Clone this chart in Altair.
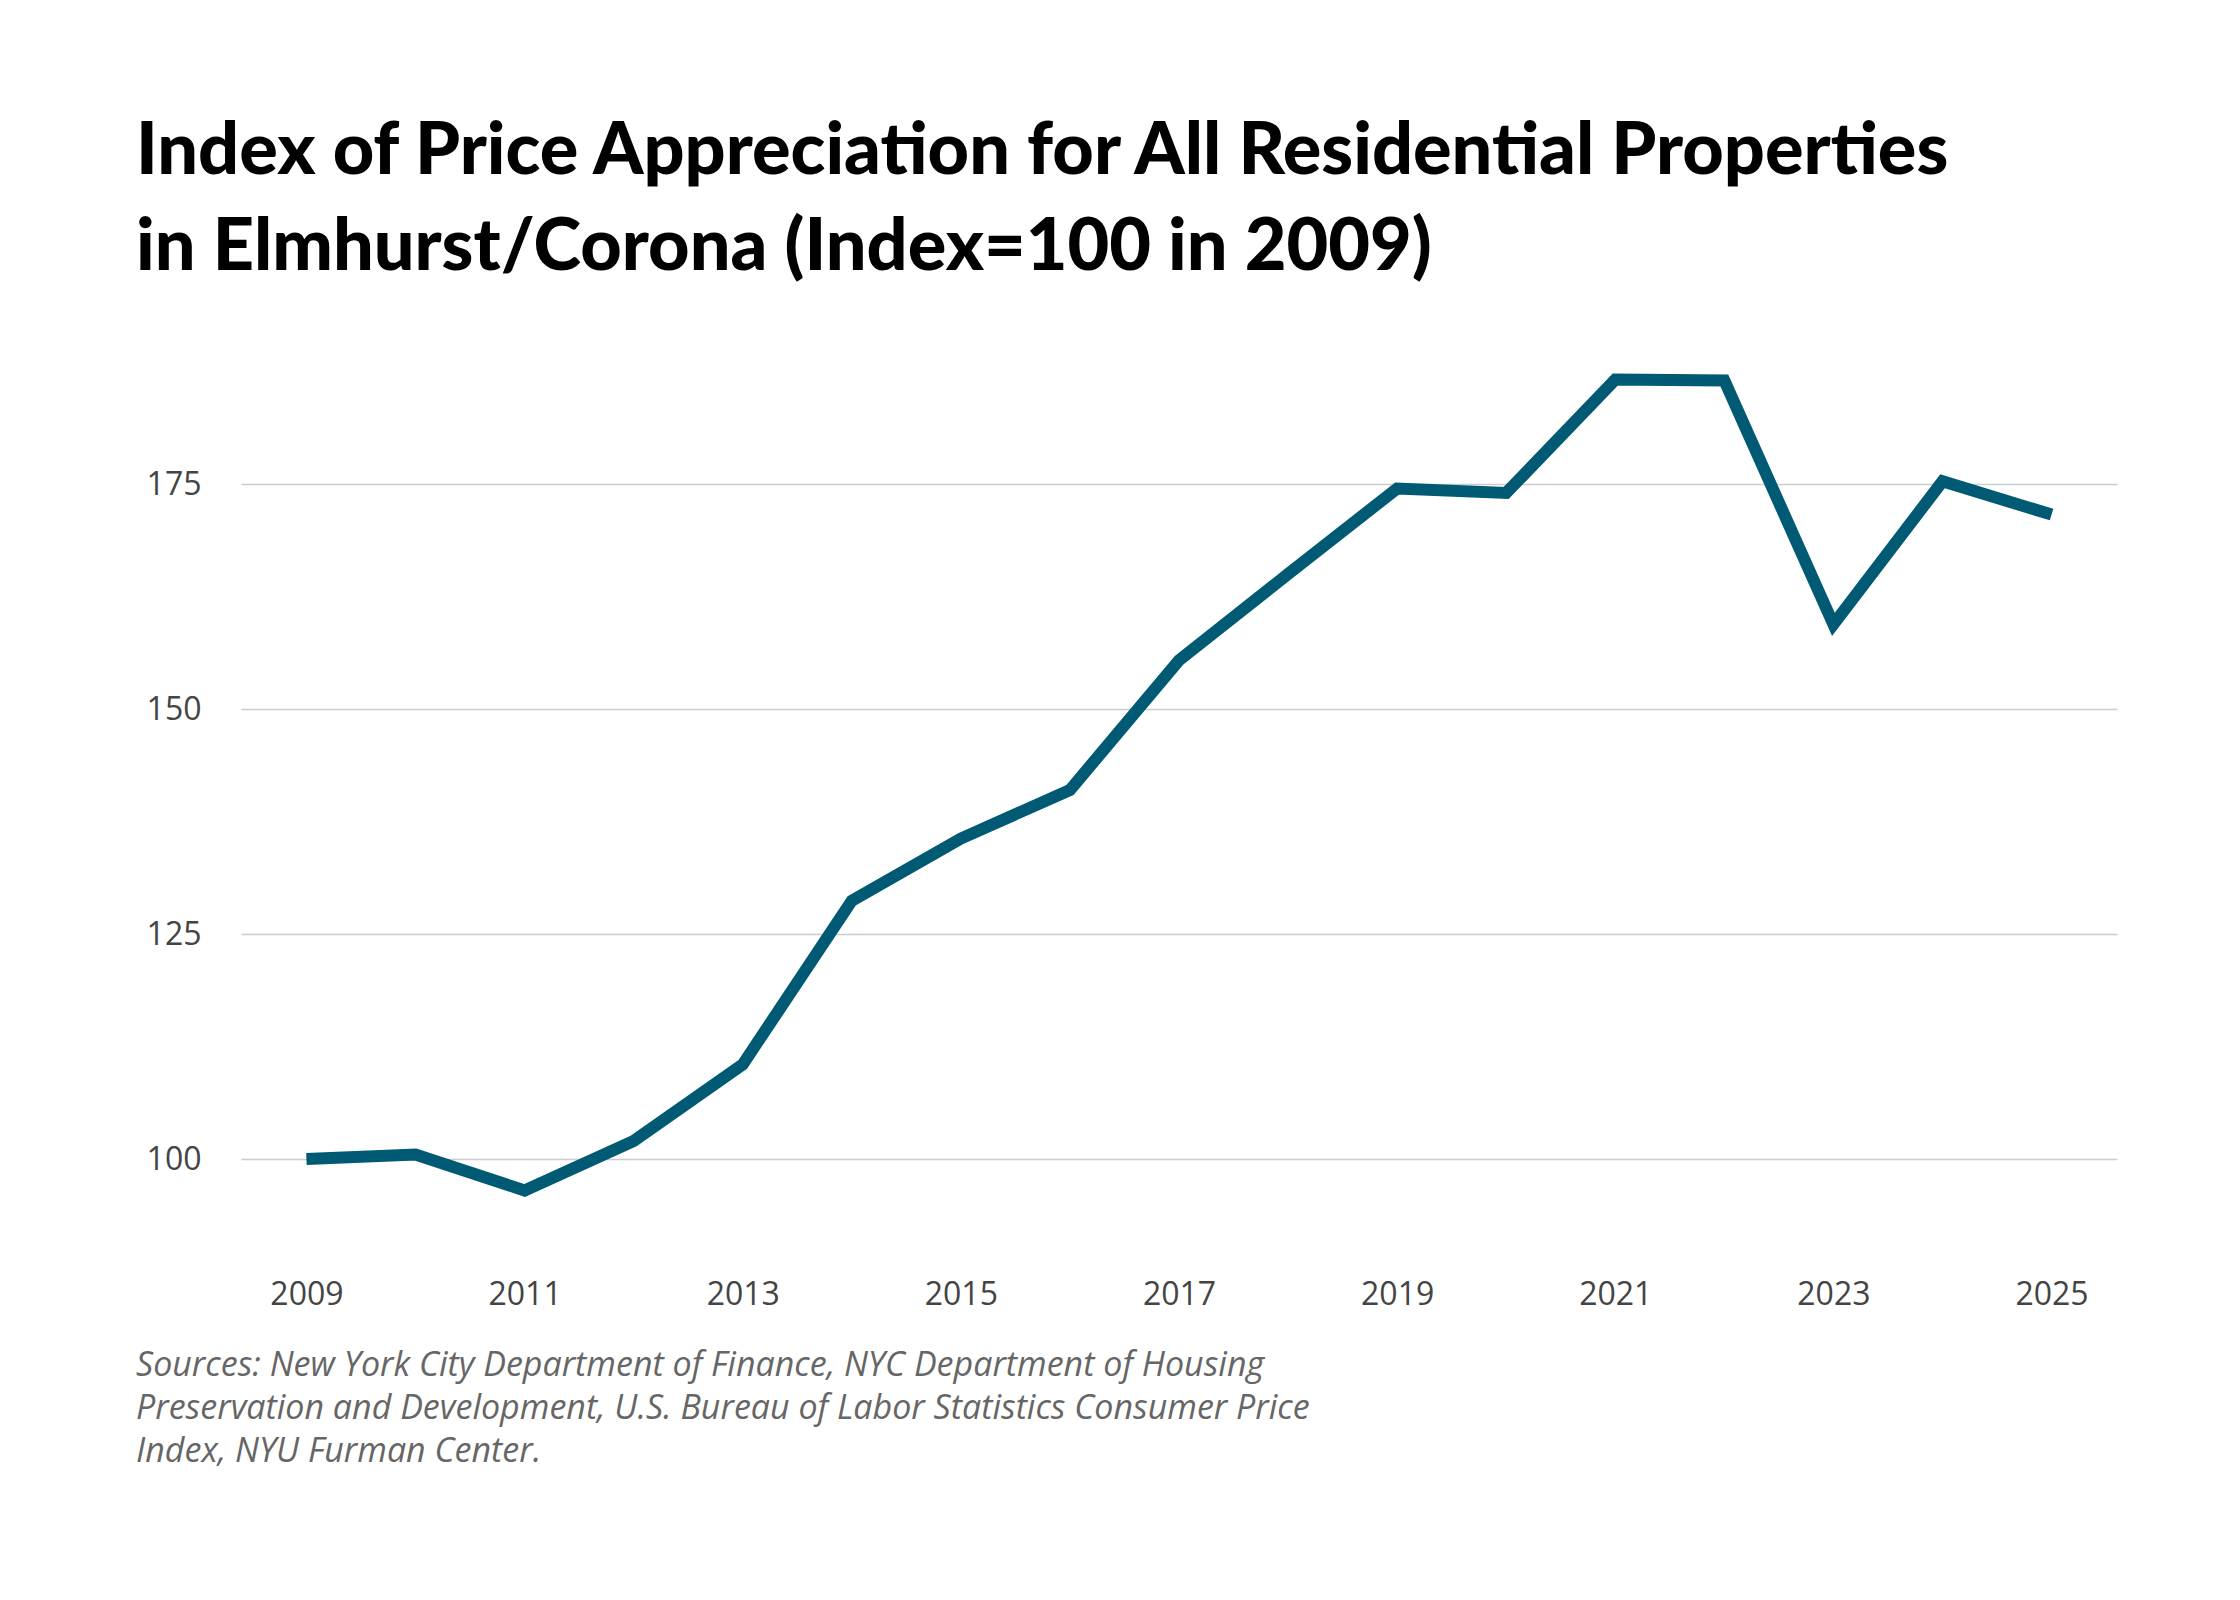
import altair as alt
import pandas as pd

years = list(range(2009, 2026))
index_values = [100, 100.5, 96.5, 102, 110.5, 128.7, 135.6, 141, 155.4, 165,
                174.5, 174, 186.6, 186.5, 159.4, 175.3, 171.6]
y_ticks = [100, 125, 150, 175]
x_ticks = [2009, 2011, 2013, 2015, 2017, 2019, 2021, 2023, 2025]
title_lines = ["Index of Price Appreciation for All Residential Properties",
               "in Elmhurst/Corona (Index=100 in 2009)"]
source_text = ("Sources: New York City Department of Finance, NYC Department of Housing\n"
               "Preservation and Development, U.S. Bureau of Labor Statistics Consumer Price\n"
               "Index, NYU Furman Center.")

df = pd.DataFrame({"year": years, "index": index_values})

line = alt.Chart(df).mark_line(color="#005a73", strokeWidth=12, strokeCap="butt").encode(
    x=alt.X("year:Q", scale=alt.Scale(domain=[2008.4, 2025.6], nice=False, zero=False),
            axis=alt.Axis(values=x_ticks, format="d", grid=False, domain=False, ticks=False,
                          labelPadding=30, labelFontSize=32, labelColor="#444444",
                          labelFont="Open Sans", title=None)),
    y=alt.Y("index:Q", scale=alt.Scale(domain=[90, 190], nice=False, zero=False),
            axis=alt.Axis(values=y_ticks, grid=True, gridColor="#cccccc", gridWidth=1.5,
                          domain=False, ticks=False, labelPadding=40, labelFontSize=32,
                          labelColor="#444444", labelFont="Open Sans", title=None)),
)

note = alt.Chart(pd.DataFrame({"t": [source_text]})).mark_text(
    align="left", baseline="top", lineBreak="\n", font="Open Sans", fontStyle="italic",
    fontSize=34, lineHeight=43, color="#666666"
).encode(text="t:N", x=alt.value(-105), y=alt.value(1000))

chart = (line + note).properties(
    width=1876, height=900,
    autosize=alt.AutoSizeParams(type="none"),
    padding={"left": 233, "top": 341, "right": 115, "bottom": 300},
    title=alt.TitleParams(title_lines, anchor="start", dx=0, offset=-8,
                          baseline="bottom", font="Lato", fontWeight=900,
                          fontSize=72, lineHeight=96, color="#000000"),
).configure_view(stroke=None)

chart.save("out.html", embed_options={"renderer": "svg", "actions": False})
